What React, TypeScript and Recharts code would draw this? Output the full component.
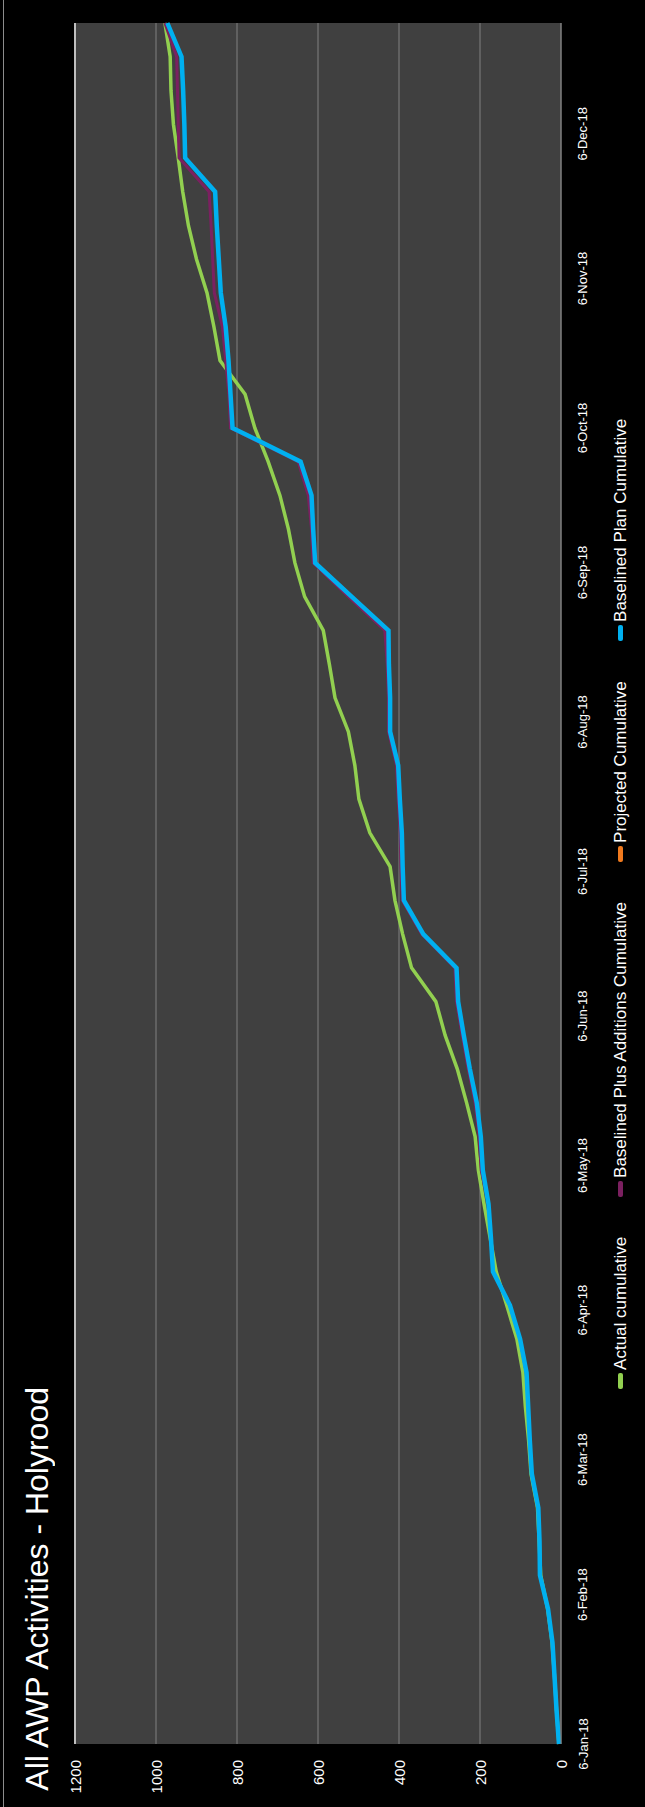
import React from "react";
import { LineChart, Line, XAxis, YAxis, CartesianGrid, Legend, ReferenceLine } from "recharts";

// weekly snapshot dates
const weekDates = [
  "2018-01-06", "2018-01-13", "2018-01-20", "2018-01-27",
  "2018-02-03", "2018-02-10", "2018-02-17", "2018-02-24",
  "2018-03-03", "2018-03-10", "2018-03-17", "2018-03-24", "2018-03-31",
  "2018-04-07", "2018-04-14", "2018-04-21", "2018-04-28",
  "2018-05-05", "2018-05-12", "2018-05-19", "2018-05-26",
  "2018-06-02", "2018-06-09", "2018-06-16", "2018-06-23", "2018-06-30",
  "2018-07-07", "2018-07-14", "2018-07-21", "2018-07-28",
  "2018-08-04", "2018-08-11", "2018-08-18", "2018-08-25",
  "2018-09-01", "2018-09-08", "2018-09-15", "2018-09-22", "2018-09-29",
  "2018-10-06", "2018-10-13", "2018-10-20", "2018-10-27",
  "2018-11-03", "2018-11-10", "2018-11-17", "2018-11-24",
  "2018-12-01", "2018-12-08", "2018-12-15", "2018-12-22", "2018-12-29",
];

const actualCumulative = [
  5, 11, 16, 22, 33, 50, 54, 58, 74, 80, 88, 94, 109, 134, 160, 175, 190, 204, 212, 233,
  256, 286, 309, 369, 391, 410, 422, 472, 499, 509, 525, 558, 572, 587, 633, 657, 673, 694,
  723, 756, 780, 842, 857, 874, 900, 920, 934, 945, 957, 963, 965, 978,
];

const baselinedPlusAdditions = [
  5, 11, 16, 21, 32, 52, 53, 56, 72, 77, 81, 85, 101, 126, 168, 173, 179, 197, 202, 212,
  229, 244, 258, 262, 344, 392, 395, 397, 402, 406, 426, 426, 429, 435, 525, 612, 616, 624,
  649, 816, 820, 828, 836, 856, 860, 864, 869, 943, 945, 947, 949, 978,
];

// no projected values in the source
const projectedCumulative: number[] = [];

const baselinedPlan = [
  5, 11, 16, 21, 32, 52, 53, 56, 72, 77, 81, 85, 101, 126, 168, 173, 179, 193, 198, 208,
  225, 240, 254, 258, 340, 388, 391, 393, 398, 402, 422, 422, 425, 426, 517, 607, 612, 616,
  643, 811, 816, 821, 828, 840, 845, 850, 854, 928, 930, 933, 937, 972,
];

const monthTicks = [
  "2018-01-06", "2018-02-06", "2018-03-06", "2018-04-06", "2018-05-06", "2018-06-06",
  "2018-07-06", "2018-08-06", "2018-09-06", "2018-10-06", "2018-11-06", "2018-12-06",
];

const valueTicks = [0, 200, 400, 600, 800, 1000, 1200];

const seriesOrder = [
  "Actual cumulative",
  "Baselined Plus Additions Cumulative",
  "Projected Cumulative",
  "Baselined Plan Cumulative",
];

const MONTHS = ["Jan", "Feb", "Mar", "Apr", "May", "Jun", "Jul", "Aug", "Sep", "Oct", "Nov", "Dec"];
const DAY = 86400000;
const toDay = (iso: string) => Date.parse(iso) / DAY;

const formatDate = (day: number) => {
  const d = new Date(day * DAY);
  return `${d.getUTCDate()}-${MONTHS[d.getUTCMonth()]}-${String(d.getUTCFullYear()).slice(2)}`;
};

const data = weekDates.map((iso, i) => ({
  day: toDay(iso),
  actual: actualCumulative[i],
  plusAdditions: baselinedPlusAdditions[i],
  projected: projectedCumulative[i] ?? null,
  plan: baselinedPlan[i],
}));

const FONT = "'Liberation Sans', Arial, sans-serif";
const W = 645;
const H = 1807;

// the whole chart is turned a quarter turn, so every text reads bottom-to-top
const ValueTick = ({ x, y, payload }: any) => (
  <text
    x={x}
    y={y}
    transform={`rotate(-90 ${x} ${y})`}
    textAnchor="end"
    dominantBaseline="central"
    fill="#ffffff"
    fontSize={15}
    fontFamily={FONT}
  >
    {payload.value}
  </text>
);

const DateTick = ({ x, y, payload }: any) => (
  <text
    x={x}
    y={y}
    transform={`rotate(-90 ${x} ${y})`}
    textAnchor="middle"
    dominantBaseline="central"
    fill="#ffffff"
    fontSize={13}
    fontFamily={FONT}
  >
    {formatDate(payload.value)}
  </text>
);

const renderLegend = (props: any) => {
  const items = [...(props.payload || [])].sort(
    (a: any, b: any) => seriesOrder.indexOf(a.value) - seriesOrder.indexOf(b.value)
  );
  return (
    <div
      style={{
        width: 39,
        boxSizing: "border-box",
        paddingLeft: 10,
        display: "flex",
        alignItems: "center",
        writingMode: "vertical-rl",
        transform: "rotate(180deg)",
        gap: 40,
        fontFamily: FONT,
        fontSize: 17,
        lineHeight: "20px",
        color: "#ffffff",
        whiteSpace: "nowrap",
      }}
    >
      {items.map((entry: any) => (
        <div key={entry.value} style={{ display: "flex", alignItems: "center", gap: 3 }}>
          <span
            style={{
              display: "inline-block",
              width: 5,
              height: 16,
              borderRadius: 2,
              background: entry.color,
            }}
          />
          <span>{entry.value}</span>
        </div>
      ))}
    </div>
  );
};

export default function App() {
  return (
    <div
      style={{
        position: "absolute",
        left: 0,
        top: 0,
        width: W,
        height: H,
        background: "#000",
        overflow: "hidden",
      }}
    >
      <div style={{ position: "absolute", left: 3, top: 0, width: 1, height: H, background: "#8c8c8c" }} />
      <div
        style={{
          position: "absolute",
          left: 19,
          bottom: 16,
          writingMode: "vertical-rl",
          transform: "rotate(180deg)",
          fontFamily: FONT,
          fontSize: 32,
          lineHeight: "36px",
          color: "#ffffff",
          whiteSpace: "nowrap",
        }}
      >
        All AWP Activities - Holyrood
      </div>
      <LineChart
        layout="vertical"
        width={W}
        height={H}
        data={data}
        margin={{ top: 23, right: 0, bottom: 0, left: 75 }}
      >
        <CartesianGrid horizontal={false} stroke="#808080" fill="#404040" />
        <XAxis
          type="number"
          orientation="bottom"
          reversed
          domain={[0, 1200]}
          ticks={valueTicks}
          height={63}
          axisLine={false}
          tickLine={false}
          tickSize={6}
          tickMargin={10}
          tick={<ValueTick />}
        />
        <YAxis
          type="number"
          dataKey="day"
          orientation="right"
          reversed
          domain={[toDay(weekDates[0]), toDay(weekDates[weekDates.length - 1])]}
          ticks={monthTicks.map(toDay)}
          width={45}
          axisLine={{ stroke: "#808080" }}
          tickLine={false}
          tickSize={6}
          tickMargin={16}
          tick={<DateTick />}
        />
        <ReferenceLine x={1200} stroke="#bfbfbf" strokeWidth={2} />
        <Legend layout="vertical" align="right" verticalAlign="middle" content={renderLegend} />
        <Line
          type="linear"
          dataKey="actual"
          name="Actual cumulative"
          stroke="#92D050"
          strokeWidth={3.5}
          dot={false}
          isAnimationActive={false}
        />
        <Line
          type="linear"
          dataKey="plusAdditions"
          name="Baselined Plus Additions Cumulative"
          stroke="#7B2060"
          strokeWidth={3}
          dot={false}
          isAnimationActive={false}
        />
        <Line
          type="linear"
          dataKey="projected"
          name="Projected Cumulative"
          stroke="#F07A1E"
          strokeWidth={3}
          dot={false}
          isAnimationActive={false}
        />
        <Line
          type="linear"
          dataKey="plan"
          name="Baselined Plan Cumulative"
          stroke="#00B0F0"
          strokeWidth={4.5}
          dot={false}
          isAnimationActive={false}
        />
      </LineChart>
    </div>
  );
}
